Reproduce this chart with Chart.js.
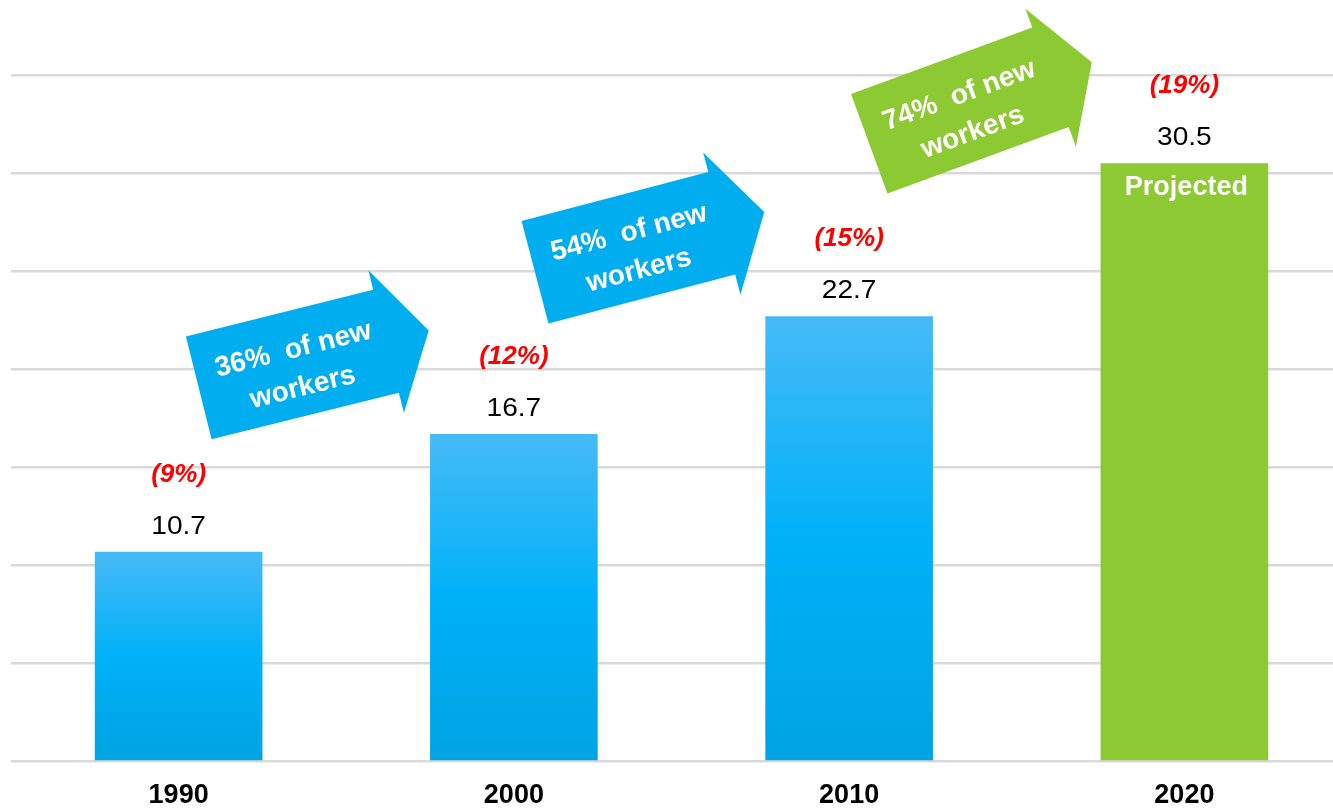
<!DOCTYPE html>
<html lang="en">
<head>
  <meta charset="UTF-8" />
  <title>New workers by decade</title>
  <style>
    body {
      margin: 0;
      background: #fff;
      overflow: hidden;
    }
    #wrap {
      width: 1352px;
      height: 812px;
    }
  </style>
  <script src="https://cdn.jsdelivr.net/npm/chart.js"></script>
</head>
<body>
  <div id="wrap"><canvas id="workersChart"></canvas></div>
  <script>
    // Data
    const years = ['1990', '2000', '2010', '2020'];
    const workers = [10.7, 16.7, 22.7, 30.5];
    const shares = ['(9%)', '(12%)', '(15%)', '(19%)'];
    const arrowLines = [
      ['36%  of new', 'workers'],
      ['54%  of new', 'workers'],
      ['74%  of new', 'workers']
    ];
    const projectedIndex = 3;
    const projectedText = 'Projected';

    // Arrow placement: tail middle in data units (category index, value), rotation in degrees
    const arrowSpots = [
      { x: 0.06, y: 19.05, angle: -14.0, color: '#00aeef' },
      { x: 1.063, y: 24.95, angle: -14.7, color: '#00aeef' },
      { x: 2.06, y: 31.5, angle: -20.1, color: '#8cc932' }
    ];

    const green = '#8cc932';
    const font = "'Liberation Sans', Arial, sans-serif";

    function barFill(ctx) {
      if (ctx.type !== 'data') return '#00b0f0';
      if (ctx.dataIndex === projectedIndex) return green;
      const chart = ctx.chart;
      if (!chart.chartArea) return '#00b0f0';
      const y = chart.scales.y;
      const top = y.getPixelForValue(workers[ctx.dataIndex]);
      const base = y.getPixelForValue(0);
      const g = chart.ctx.createLinearGradient(0, top, 0, base);
      g.addColorStop(0, '#47baf7');
      g.addColorStop(0.5, '#00b1f8');
      g.addColorStop(1, '#00a3e2');
      return g;
    }

    // text drawn a little wider than the plain font
    function wideText(ctx, text, x, y, sx) {
      ctx.save();
      ctx.translate(x, y);
      ctx.scale(sx, 1);
      ctx.fillText(text, 0, 0);
      ctx.restore();
    }

    // Value labels, shares, "Projected" and the rotated arrows
    const annotations = {
      id: 'annotations',
      afterDatasetsDraw(chart) {
        const ctx = chart.ctx;
        const meta = chart.getDatasetMeta(0);
        const xs = chart.scales.x;
        const ys = chart.scales.y;

        ctx.save();
        ctx.textAlign = 'center';
        ctx.textBaseline = 'middle';
        meta.data.forEach((bar, i) => {
          ctx.fillStyle = '#000';
          ctx.font = '26px ' + font;
          wideText(ctx, workers[i].toFixed(1), bar.x, bar.y - 25, 1.08);

          ctx.fillStyle = '#ff0000';
          ctx.font = 'italic bold 26px ' + font;
          ctx.fillText(shares[i], bar.x, bar.y - 77);

          if (i === projectedIndex) {
            ctx.fillStyle = '#fff';
            ctx.font = 'bold 27px ' + font;
            ctx.fillText(projectedText, bar.x + 2, bar.y + 24);
          }
        });

        arrowSpots.forEach((a, i) => {
          const px = xs.getPixelForValue(a.x);
          const py = ys.getPixelForValue(a.y);
          ctx.save();
          ctx.translate(px, py);
          ctx.rotate(a.angle * Math.PI / 180);
          ctx.fillStyle = a.color;
          ctx.beginPath();
          ctx.moveTo(0, -53);
          ctx.lineTo(193, -53);
          ctx.lineTo(193, -73);
          ctx.lineTo(237, 0);
          ctx.lineTo(193, 74);
          ctx.lineTo(193, 53);
          ctx.lineTo(0, 53);
          ctx.closePath();
          ctx.fill();

          ctx.fillStyle = '#fff';
          ctx.font = 'bold 28px ' + font;
          ctx.fillText(arrowLines[i][0], 101, -14);
          ctx.fillText(arrowLines[i][1], 101, 25);
          ctx.restore();
        });
        ctx.restore();
      }
    };

    new Chart(document.getElementById('workersChart'), {
      type: 'bar',
      data: {
        labels: years,
        datasets: [{
          data: workers,
          backgroundColor: barFill,
          borderWidth: 0,
          barPercentage: 0.5,
          categoryPercentage: 1
        }]
      },
      options: {
        responsive: true,
        maintainAspectRatio: false,
        animation: false,
        events: [],
        layout: { padding: { top: 75, left: 11, right: 0, bottom: 0 } },
        plugins: {
          legend: { display: false },
          tooltip: { enabled: false }
        },
        scales: {
          x: {
            // hidden tick marks still reserve tickLength, used here as the gap under the bars
            grid: { display: false, drawTicks: true, tickLength: 18 },
            border: { display: false },
            ticks: {
              color: '#000',
              padding: 0,
              maxRotation: 0,
              font: { family: font, size: 27, weight: 'bold' }
            }
          },
          y: {
            min: 0,
            max: 35,
            border: { display: false },
            grid: { color: '#d9d9d9', lineWidth: 2.5, drawTicks: false },
            ticks: { display: false, stepSize: 5 }
          }
        }
      },
      plugins: [annotations]
    });
  </script>
</body>
</html>
